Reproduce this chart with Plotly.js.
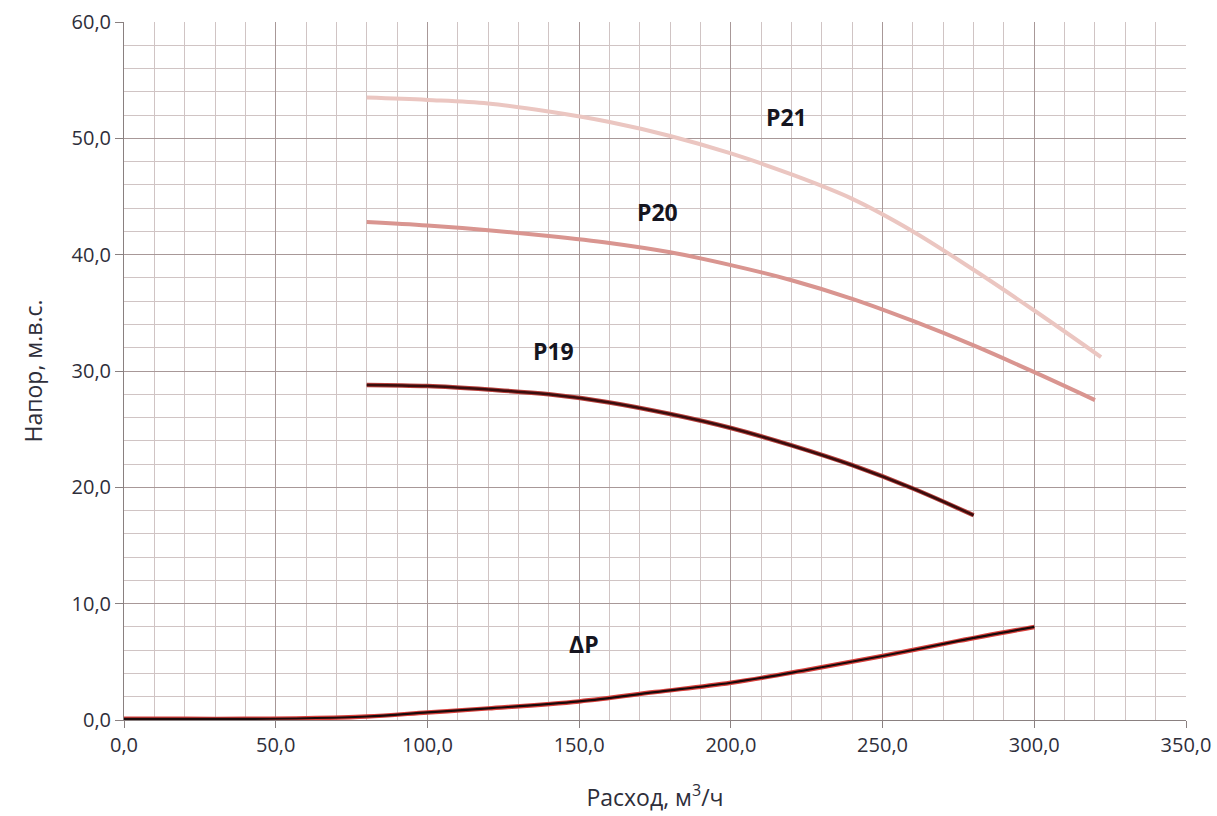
<!DOCTYPE html>
<html>
<head>
<meta charset="utf-8">
<script src="https://cdn.plot.ly/plotly-3.0.1.min.js"></script>
<style>html,body{margin:0;padding:0;background:#fff;}#chart{width:1217px;height:816px;}</style>
</head>
<body>
<div id="chart"></div>
<script>
// Data
const p21X = [80, 100, 120, 140, 160, 180, 200, 220, 240, 260, 280, 300, 322];
const p21Y = [53.5, 53.3, 53.0, 52.3, 51.4, 50.2, 48.7, 46.9, 44.8, 42.0, 38.7, 35.2, 31.2];
const p20X = [80, 100, 120, 140, 160, 180, 200, 220, 240, 260, 280, 300, 320];
const p20Y = [42.8, 42.5, 42.1, 41.6, 41.0, 40.2, 39.1, 37.8, 36.2, 34.3, 32.2, 29.9, 27.5];
const p19X = [80, 100, 120, 140, 160, 180, 200, 220, 240, 260, 280];
const p19Y = [28.8, 28.7, 28.4, 28.0, 27.3, 26.3, 25.1, 23.6, 21.9, 19.9, 17.6];
const dpX = [0, 20, 40, 60, 80, 100, 120, 150, 175, 200, 225, 250, 275, 300];
const dpY = [0.1, 0.1, 0.1, 0.15, 0.3, 0.65, 1.0, 1.6, 2.4, 3.2, 4.3, 5.5, 6.8, 8.0];
const labels = ["P21", "P20", "P19", "ΔP"];
const labelX = [218.5, 175.7, 141.7, 151.6];
const labelY = [51.8, 43.7, 31.7, 6.5];

function line(x, y, color, width) {
  return {x: x, y: y, type: 'scatter', mode: 'lines', line: {color: color, width: width, shape: 'spline', smoothing: 1}, hoverinfo: 'skip'};
}

const traces = [
  line(p21X, p21Y, '#ebc6c1', 4),
  line(p20X, p20Y, '#d99590', 4),
  line(p19X, p19Y, '#b8403c', 4.5),
  line(p19X, p19Y, '#3a0d0d', 2.5),
  line(dpX, dpY, '#d9403c', 4.5),
  line(dpX, dpY, '#1a0a0a', 2.2)
];

const annotations = labels.map((t, i) => ({
  x: labelX[i], y: labelY[i], xref: 'x', yref: 'y', text: '<b>' + t + '</b>', showarrow: false,
  font: {family: 'Open Sans, Liberation Sans, sans-serif', size: 23, color: '#15151f'}
}));

const textColor = '#2e2e3a';

const layout = {
  width: 1217, height: 816,
  margin: {l: 124, r: 31, t: 22, b: 96},
  paper_bgcolor: '#ffffff', plot_bgcolor: '#ffffff',
  separators: ', ',
  showlegend: false,
  font: {family: 'Open Sans, Liberation Sans, sans-serif', color: textColor},
  xaxis: {
    range: [0, 350], dtick: 50, tick0: 0, tickformat: '.1f',
    showgrid: true, gridcolor: '#a89898', gridwidth: 1,
    minor: {dtick: 10, showgrid: true, gridcolor: '#d0c4c4', gridwidth: 1},
    showline: true, linecolor: '#8a8080', linewidth: 1, mirror: false,
    ticks: 'outside', ticklen: 7, tickcolor: '#8a8080',
    zeroline: false,
    tickfont: {size: 20, color: textColor},
    title: {text: 'Расход, м<sup>3</sup>/ч', font: {size: 23, color: textColor}, standoff: 32}
  },
  yaxis: {
    range: [0, 60], dtick: 10, tick0: 0, tickformat: '.1f',
    showgrid: true, gridcolor: '#a89898', gridwidth: 1,
    minor: {dtick: 2, showgrid: true, gridcolor: '#d0c4c4', gridwidth: 1},
    showline: true, linecolor: '#8a8080', linewidth: 1,
    ticks: 'outside', ticklen: 8, tickcolor: '#8a8080',
    zeroline: false,
    tickfont: {size: 20, color: textColor},
    title: {text: 'Напор, м.в.с.', font: {size: 23, color: textColor}, standoff: 22}
  },
  annotations: annotations
};

Plotly.newPlot('chart', traces, layout, {displayModeBar: false, staticPlot: true});
</script>
</body>
</html>
